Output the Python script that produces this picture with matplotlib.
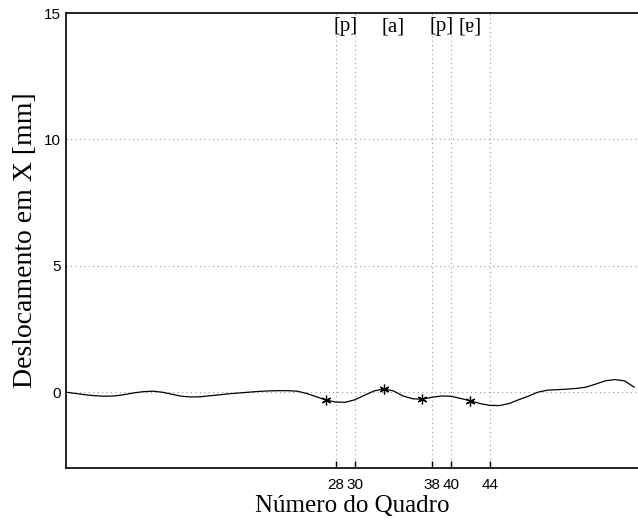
import matplotlib
matplotlib.use("Agg")
import matplotlib.pyplot as plt
import numpy as np

frames = list(range(0, 60))
disp_x = [0.0, -0.05, -0.10, -0.14, -0.16, -0.15, -0.10, -0.03, 0.02, 0.04,
          0.0, -0.08, -0.16, -0.19, -0.18, -0.14, -0.10, -0.06, -0.03, 0.0,
          0.03, 0.05, 0.06, 0.06, 0.04, -0.05, -0.18, -0.31, -0.39, -0.40,
          -0.30, -0.12, 0.05, 0.13, 0.05, -0.15, -0.26, -0.28, -0.20, -0.15,
          -0.16, -0.25, -0.34, -0.45, -0.52, -0.53, -0.45, -0.30, -0.16, 0.0,
          0.08, 0.10, 0.12, 0.15, 0.20, 0.32, 0.45, 0.50, 0.45, 0.20]
marker_frames = [27, 33, 37, 42]
marker_vals = [-0.31, 0.13, -0.28, -0.34]
xticks = [28, 30, 38, 40, 44]
yticks = [0, 5, 10, 15]
phone_labels = ["[p]", "[a]", "[p]", "[ɐ]"]
phone_pos = [29, 34, 39, 42]

fig = plt.figure(figsize=(6.38, 5.22), dpi=100)
ax = fig.add_axes([0.1034, 0.1034, 0.8966, 0.8716])
ax.plot(frames, disp_x, color="black", lw=0.9)
ax.plot(marker_frames, marker_vals, linestyle="none", marker=(6, 2, 0),
        color="black", markersize=7, markeredgewidth=0.9)
ax.set_xlim(0, 59.4)
ax.set_ylim(-3, 15)
ax.set_xticks(xticks)
ax.set_yticks(yticks)
ax.grid(True, linestyle=(0, (1, 3)), color="#999999", lw=0.8)
ax.tick_params(axis="x", direction="in", length=5, width=1, pad=7, labelsize=11)
ax.tick_params(axis="y", direction="in", length=0, pad=4, labelsize=11)
for lab in ax.get_xticklabels() + ax.get_yticklabels():
    lab.set_family("Liberation Sans")
ax.spines["right"].set_visible(False)
for s in ["left", "bottom", "top"]:
    ax.spines[s].set_linewidth(1.2)
ax.set_xlabel("Número do Quadro", family="Liberation Serif", fontsize=18, labelpad=2)
ax.set_ylabel("Deslocamento em X [mm]", family="Liberation Serif", fontsize=20)
ax.yaxis.set_label_coords(-0.049, 0.5)
for lab, p in zip(phone_labels, phone_pos):
    ax.text(p, 14.45, lab, ha="center", va="center", family=["Liberation Serif", "DejaVu Serif"],
            fontsize=15)
fig.savefig("out.png", dpi=100)
